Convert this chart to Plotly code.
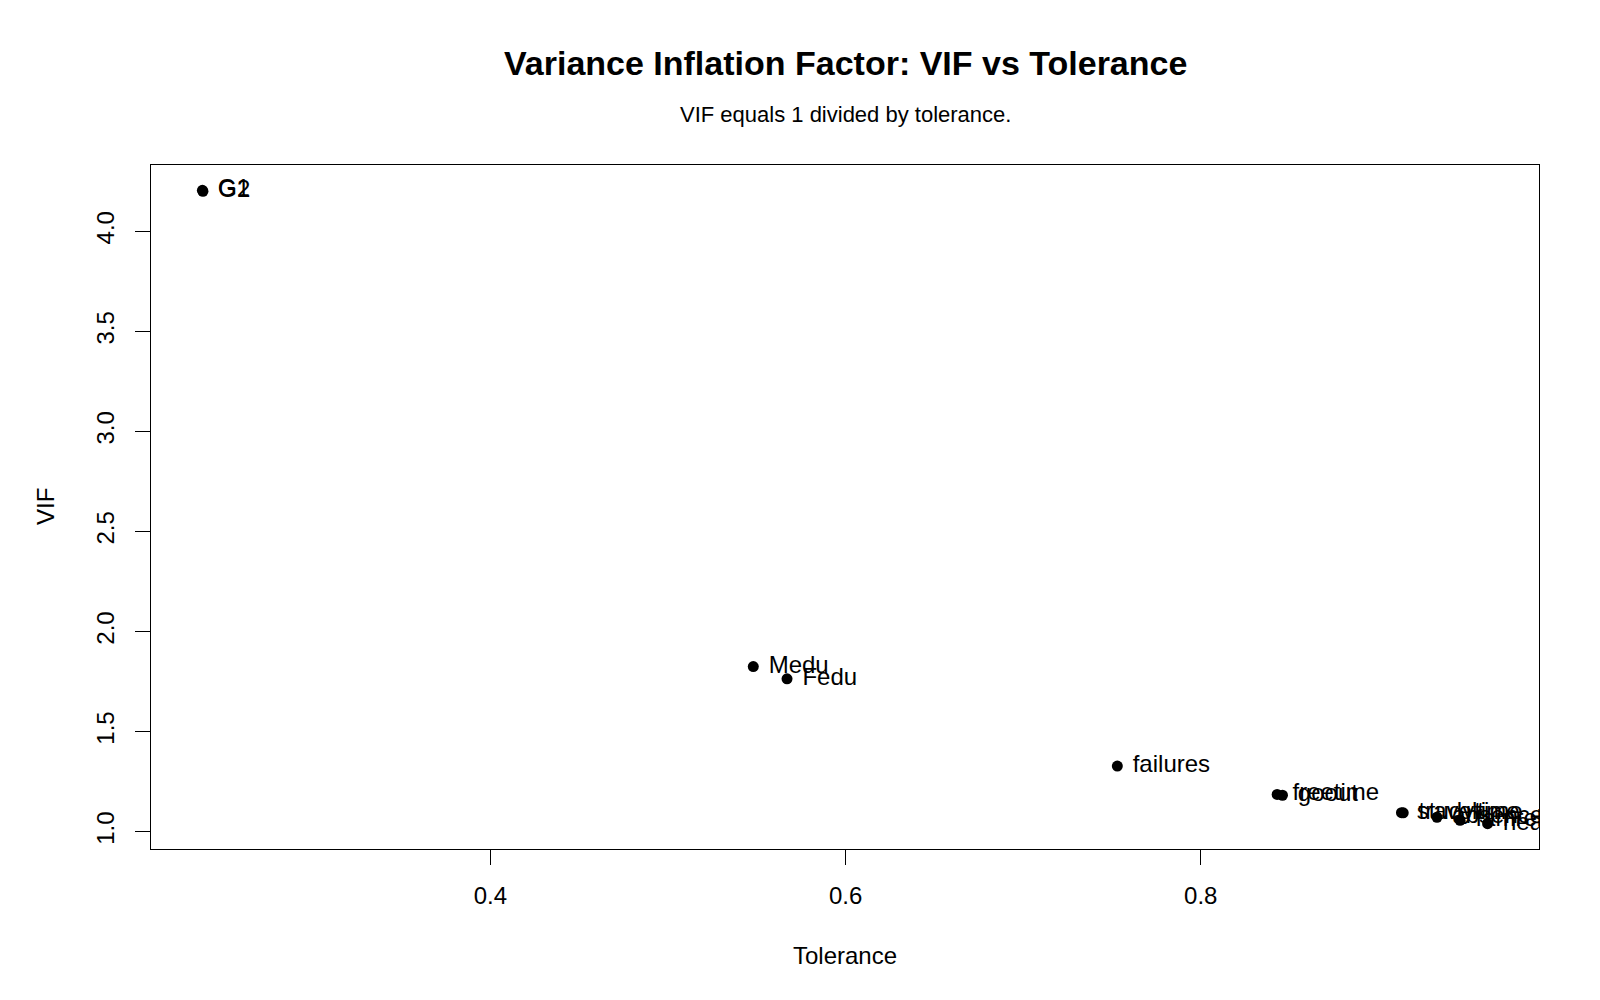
import plotly.graph_objects as go

variables = ["G1", "G2", "Medu", "Fedu", "failures", "freetime", "goout",
             "studytime", "traveltime", "absences", "famrel", "health"]
tolerance = [0.2378, 0.2381, 0.548, 0.567, 0.753, 0.843, 0.846,
             0.913, 0.914, 0.933, 0.946, 0.9615]
vif = [4.205, 4.200, 1.825, 1.764, 1.328, 1.186, 1.182,
       1.095, 1.094, 1.072, 1.057, 1.040]
x_ticks = [0.4, 0.6, 0.8]
y_ticks = [1.0, 1.5, 2.0, 2.5, 3.0, 3.5, 4.0]

FONT = "Liberation Sans, Arial, sans-serif"
W, H = 1600, 1000
L, R, T, B = 151, 61, 165, 151
PH = H - T - B


def ypaper(px):
    return (H - B - px) / PH


def xpaper(px):
    return (px - L) / (W - L - R)


xspan = max(tolerance) - min(tolerance)
yspan = max(vif) - min(vif)
xr = [min(tolerance) - 0.04 * xspan, max(tolerance) + 0.04 * xspan]
yr = [min(vif) - 0.04 * yspan, max(vif) + 0.04 * yspan]

fig = go.Figure()
fig.add_trace(go.Scatter(
    x=tolerance, y=vif, mode="markers",
    marker=dict(color="black", size=11, line=dict(width=0)),
    hoverinfo="skip", showlegend=False, cliponaxis=False,
))
fig.add_trace(go.Scatter(
    x=tolerance, y=vif, mode="text+markers", text=variables,
    textposition="middle right",
    textfont=dict(family=FONT, size=24, color="black"),
    marker=dict(color="rgba(0,0,0,0)", size=23),
    hoverinfo="skip", showlegend=False, cliponaxis=True,
))

axis_common = dict(
    showline=True, mirror=True, linecolor="black", linewidth=1,
    showgrid=False, zeroline=False, ticks="outside", ticklen=15,
    tickcolor="black", tickwidth=1,
    tickfont=dict(family=FONT, size=24, color="black"),
)

fig.update_layout(
    width=W, height=H,
    margin=dict(l=L, r=R, t=T, b=B),
    paper_bgcolor="white", plot_bgcolor="white",
    xaxis=dict(range=xr, tickvals=x_ticks, ticktext=[f"{v:.1f}" for v in x_ticks],
               ticklabelstandoff=10, **axis_common),
    yaxis=dict(range=yr, tickvals=y_ticks, ticktext=[f"{v:.1f}" for v in y_ticks],
               tickangle=-90, ticklabelstandoff=11, **axis_common),
    annotations=[
        dict(text="<b>Variance Inflation Factor: VIF vs Tolerance</b>",
             xref="paper", yref="paper", x=0.5, y=ypaper(63), xanchor="center",
             yanchor="middle", showarrow=False,
             font=dict(family=FONT, size=34, color="black")),
        dict(text="VIF equals 1 divided by tolerance.",
             xref="paper", yref="paper", x=0.5, y=ypaper(114), xanchor="center",
             yanchor="middle", showarrow=False,
             font=dict(family=FONT, size=22, color="black")),
        dict(text="Tolerance",
             xref="paper", yref="paper", x=0.5, y=ypaper(955), xanchor="center",
             yanchor="middle", showarrow=False,
             font=dict(family=FONT, size=24, color="black")),
        dict(text="VIF", textangle=-90,
             xref="paper", yref="paper", x=xpaper(45), y=0.5, xanchor="center",
             yanchor="middle", showarrow=False,
             font=dict(family=FONT, size=24, color="black")),
    ],
)

fig.write_html("out.html")
